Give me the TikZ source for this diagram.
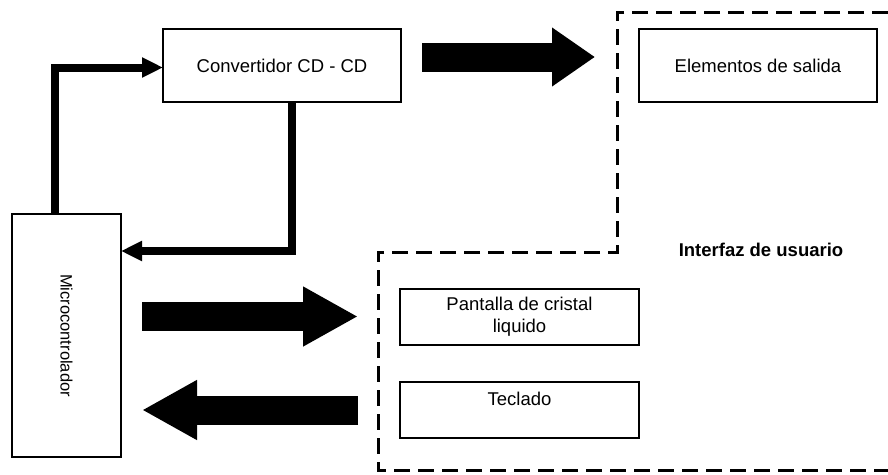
\documentclass[tikz,border=0pt]{standalone}
\usepackage{fontspec}
\setmainfont{Liberation Sans}
\usetikzlibrary{arrows.meta}

\begin{document}
\begin{tikzpicture}[x=1pt, y=-1pt,
    bloque/.style={draw, line width=1.2pt, outer sep=0pt, inner sep=0pt,
      font=\fontsize{18.5}{22}\selectfont, align=center},
    linea/.style={line width=8pt, -{Triangle[length=21pt, width=19pt]}},
    flecha/.style={line width=29pt, -{Triangle[length=#1, width=56pt]}},
    flecha/.default=55pt]
  \useasboundingbox[fill=white] (0,0) rectangle (888,474);
  % bloques
  \node[bloque, minimum width=238pt, minimum height=73pt] (conv) at (282,65.5) {Convertidor CD - CD};
  \node[bloque, minimum width=238pt, minimum height=73pt] (salida) at (758,65.5) {Elementos de salida};
  \node[bloque, minimum width=109pt, minimum height=243pt] (micro) at (66.5,335.5) {};
  \node[rotate=-90, font=\fontsize{16.5}{20}\selectfont] (microtxt) at (micro.center) {Microcontrolador};
  \node[bloque, minimum width=239pt, minimum height=56pt] (lcd) at (519.5,317) {Pantalla de cristal\\liquido};
  \node[bloque, minimum width=239pt, minimum height=56pt] (tec) at (519.5,410) {Teclado\\~};
  \node[font=\fontsize{18.5}{22}\selectfont\bfseries] (interfaz) at (761,250) {Interfaz de usuario};
  % interfaz de usuario
  \draw[line width=3pt, dash pattern=on 16pt off 8pt]
    (888,12) -- (617,12) -- (617,252) -- (378,252) -- (378,470) -- (888,470);
  % lazo con el convertidor
  \coordinate (c1) at (55,67.5);
  \coordinate (c2) at (291.5,251);
  \draw[linea] (micro.north -| c1) |- (conv.west |- c1);
  \draw[linea] (conv.south -| c2) |- (micro.east |- c2);
  % flechas gruesas
  \coordinate (a1) at (422,57);
  \coordinate (b1) at (595,57);
  \coordinate (a2) at (142,316.5);
  \coordinate (b2) at (358,316.5);
  \coordinate (a3) at (358,410);
  \coordinate (b3) at (142,410);
  \draw[flecha=43pt] (a1) -- (b1);
  \draw[flecha] (a2) -- (b2);
  \draw[flecha] (a3) -- (b3);
\end{tikzpicture}
\end{document}
